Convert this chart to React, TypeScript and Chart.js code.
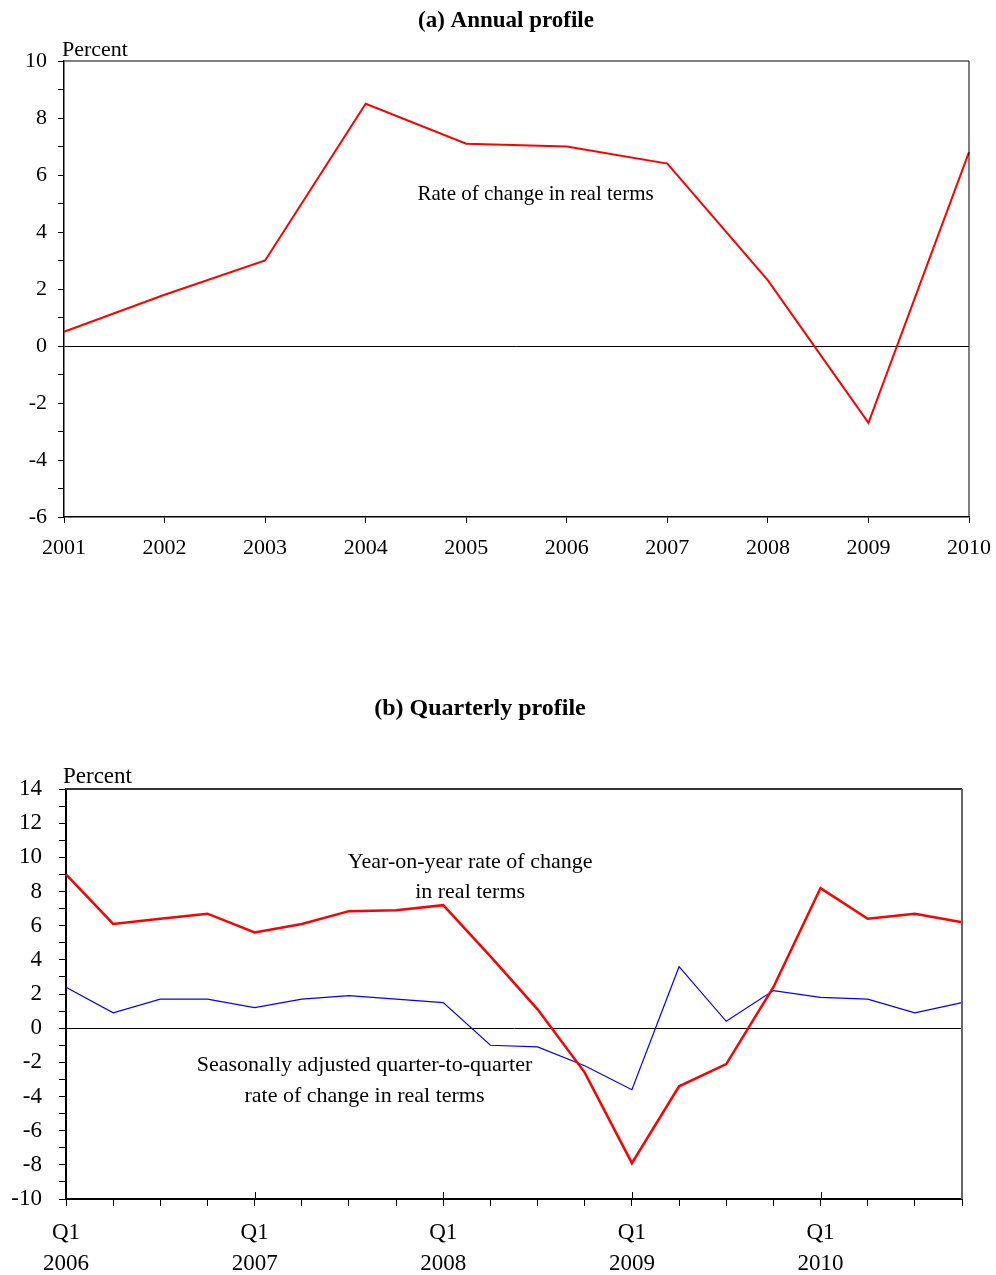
import React, { useEffect, useRef } from 'react';
import { Chart, registerables } from 'chart.js';

Chart.register(...registerables);

// ---------- Data ----------
const years = ['2001', '2002', '2003', '2004', '2005', '2006', '2007', '2008', '2009', '2010'];
const annualChange = [0.5, 1.8, 3.0, 8.5, 7.1, 7.0, 6.4, 2.3, -2.7, 6.8];

const quarterLabels: (string | string[])[] = [
  ['Q1', '2006'], '', '', '',
  ['Q1', '2007'], '', '', '',
  ['Q1', '2008'], '', '', '',
  ['Q1', '2009'], '', '', '',
  ['Q1', '2010'], '', '', '',
];
const yoyChange = [9.0, 6.1, 6.4, 6.7, 5.6, 6.1, 6.85, 6.9, 7.2, 4.2, 1.1, -2.6, -7.9, -3.4, -2.1, 2.4, 8.2, 6.4, 6.7, 6.2];
const qoqChange = [2.4, 0.9, 1.7, 1.7, 1.2, 1.7, 1.9, 1.7, 1.5, -1.0, -1.1, -2.2, -3.6, 3.6, 0.4, 2.2, 1.8, 1.7, 0.9, 1.5];

const annualRange = { min: -6, max: 10 };
const quarterlyRange = { min: -10, max: 14 };

const FONT = '"Liberation Serif", "Times New Roman", Times, serif';

// ---------- Plugins ----------
const textPlugin = {
  id: 'texts',
  afterDraw(chart: any, _args: any, opts: any) {
    const ctx = chart.ctx;
    const xs = chart.scales.x;
    const ys = chart.scales.y;
    ctx.save();
    for (const t of opts.items || []) {
      ctx.font = t.font;
      ctx.fillStyle = '#000';
      ctx.textAlign = t.align || 'center';
      ctx.textBaseline = t.baseline || 'middle';
      const x = t.px != null ? t.px : xs.getPixelForValue(t.x);
      const y = t.py != null ? t.py : ys.getPixelForValue(t.y);
      ctx.fillText(t.text, x, y);
    }
    ctx.restore();
  },
};

const framePlugin = {
  id: 'frame',
  afterDatasetsDraw(chart: any, _args: any, opts: any) {
    const { left, right, top, bottom } = chart.chartArea;
    const ctx = chart.ctx;
    ctx.save();
    ctx.lineWidth = opts.topWidth || 1.5;
    ctx.strokeStyle = opts.topColor || '#444';
    ctx.beginPath();
    ctx.moveTo(left, top);
    ctx.lineTo(right, top);
    ctx.stroke();
    ctx.lineWidth = opts.rightWidth || 1.5;
    ctx.strokeStyle = opts.rightColor || '#444';
    ctx.beginPath();
    ctx.moveTo(right, top);
    ctx.lineTo(right, bottom);
    ctx.stroke();
    // inward major ticks
    if (opts.majorInward) {
      const xs = chart.scales.x;
      ctx.strokeStyle = '#000';
      ctx.lineWidth = 1;
      xs.ticks.forEach((tk: any, i: number) => {
        if (Array.isArray(tk.label) || (tk.label && tk.label !== '')) {
          const x = Math.round(xs.getPixelForTick(i)) + 0.5;
          ctx.beginPath();
          ctx.moveTo(x, bottom - opts.majorInward);
          ctx.lineTo(x, bottom);
          ctx.stroke();
        }
      });
    }
    ctx.restore();
  },
};

function zeroGrid(ctx: any) {
  return ctx.tick && ctx.tick.value === 0 ? '#000' : 'rgba(0,0,0,0)';
}

function evenLabel(v: any) {
  return Number(v) % 2 === 0 ? String(v) : '';
}

// ---------- Charts ----------
function AnnualChart() {
  const ref = useRef<HTMLCanvasElement | null>(null);
  useEffect(() => {
    if (!ref.current) return;
    const chart = new Chart(ref.current, {
      type: 'line',
      data: {
        labels: years,
        datasets: [
          {
            data: annualChange,
            borderColor: '#ff0000',
            borderWidth: 2,
            pointRadius: 0,
            tension: 0,
          },
        ],
      },
      options: {
        responsive: false,
        animation: false,
        devicePixelRatio: 1,
        layout: { padding: { top: 61, left: 0, right: 27, bottom: 33 } },
        plugins: {
          legend: { display: false },
          tooltip: { enabled: false },
          texts: {
            items: [
              { text: '(a) Annual profile', px: 506, py: 21, font: `bold 23px ${FONT}` },
              { text: 'Percent', px: 62, py: 56, font: `22px ${FONT}`, align: 'left', baseline: 'alphabetic' },
              { text: 'Rate of change in real terms', x: 4.69, y: 5.3, font: `21px ${FONT}` },
            ],
          },
          frame: { topColor: '#555', topWidth: 1.5, rightColor: '#000', rightWidth: 1 },
        } as any,
        scales: {
          x: {
            type: 'category',
            offset: false,
            afterFit: (s: any) => { s.height = 50; s.paddingLeft = 0; s.paddingRight = 0; },
            grid: { color: 'rgba(0,0,0,0)', tickColor: '#000', tickLength: 6, drawOnChartArea: false },
            border: { color: '#000', width: 1.5 },
            ticks: { color: '#000', font: { family: FONT, size: 22 }, padding: 12, autoSkip: false, maxRotation: 0 },
          },
          y: {
            min: annualRange.min,
            max: annualRange.max,
            afterFit: (s: any) => { s.width = 64; },
            grid: { color: zeroGrid, tickColor: '#000', tickLength: 6, lineWidth: 1 },
            border: { color: '#000', width: 1.5 },
            ticks: { stepSize: 1, autoSkip: false, callback: evenLabel, color: '#000', font: { family: FONT, size: 22 }, padding: 11 },
          },
        },
      },
      plugins: [textPlugin, framePlugin],
    } as any);
    return () => chart.destroy();
  }, []);
  return <canvas ref={ref} width={996} height={600} style={{ display: 'block', width: 996, height: 600 }} />;
}

function QuarterlyChart() {
  const ref = useRef<HTMLCanvasElement | null>(null);
  useEffect(() => {
    if (!ref.current) return;
    const chart = new Chart(ref.current, {
      type: 'line',
      data: {
        labels: quarterLabels,
        datasets: [
          {
            data: yoyChange,
            borderColor: '#ff0000',
            borderWidth: 2.5,
            pointRadius: 0,
            tension: 0,
          },
          {
            data: qoqChange,
            borderColor: '#0000ff',
            borderWidth: 1.2,
            pointRadius: 0,
            tension: 0,
          },
        ],
      },
      options: {
        responsive: false,
        animation: false,
        devicePixelRatio: 1,
        layout: { padding: { top: 169, left: 0, right: 34, bottom: 0 } },
        plugins: {
          legend: { display: false },
          tooltip: { enabled: false },
          texts: {
            items: [
              { text: '(b) Quarterly profile', px: 480, py: 89, font: `bold 24px ${FONT}` },
              { text: 'Percent', px: 63, py: 163, font: `23px ${FONT}`, align: 'left', baseline: 'alphabetic' },
              { text: 'Year-on-year rate of change', x: 8.57, y: 9.72, font: `22px ${FONT}` },
              { text: 'in real terms', x: 8.57, y: 7.96, font: `22px ${FONT}` },
              { text: 'Seasonally adjusted quarter-to-quarter', x: 6.33, y: -2.17, font: `22px ${FONT}` },
              { text: 'rate of change in real terms', x: 6.33, y: -3.98, font: `22px ${FONT}` },
            ],
          },
          frame: { topColor: '#333', topWidth: 2, rightColor: '#666', rightWidth: 2, majorInward: 7 },
        } as any,
        scales: {
          x: {
            type: 'category',
            offset: false,
            afterFit: (s: any) => { s.height = 76; s.paddingLeft = 0; s.paddingRight = 0; },
            grid: { color: 'rgba(0,0,0,0)', tickColor: '#000', tickLength: 7, drawOnChartArea: false },
            border: { color: '#000', width: 2 },
            ticks: {
              color: '#000',
              font: { family: FONT, size: 23, lineHeight: 1.35 },
              padding: 11,
              autoSkip: false,
              maxRotation: 0,
            },
          },
          y: {
            min: quarterlyRange.min,
            max: quarterlyRange.max,
            afterFit: (s: any) => { s.width = 66; },
            grid: { color: zeroGrid, tickColor: '#000', tickLength: 7, lineWidth: 1 },
            border: { color: '#000', width: 2 },
            ticks: { stepSize: 1, autoSkip: false, callback: evenLabel, color: '#000', font: { family: FONT, size: 23 }, padding: 17 },
          },
        },
      },
      plugins: [textPlugin, framePlugin],
    } as any);
    return () => chart.destroy();
  }, []);
  return <canvas ref={ref} width={996} height={655} style={{ display: 'block', width: 996, height: 655 }} />;
}

export default function App() {
  return (
    <div style={{ position: 'absolute', left: 0, top: 0, width: 996, height: 1275, background: '#fff' }}>
      <div style={{ position: 'absolute', left: 0, top: 0 }}>
        <AnnualChart />
      </div>
      <div style={{ position: 'absolute', left: 0, top: 620 }}>
        <QuarterlyChart />
      </div>
    </div>
  );
}
